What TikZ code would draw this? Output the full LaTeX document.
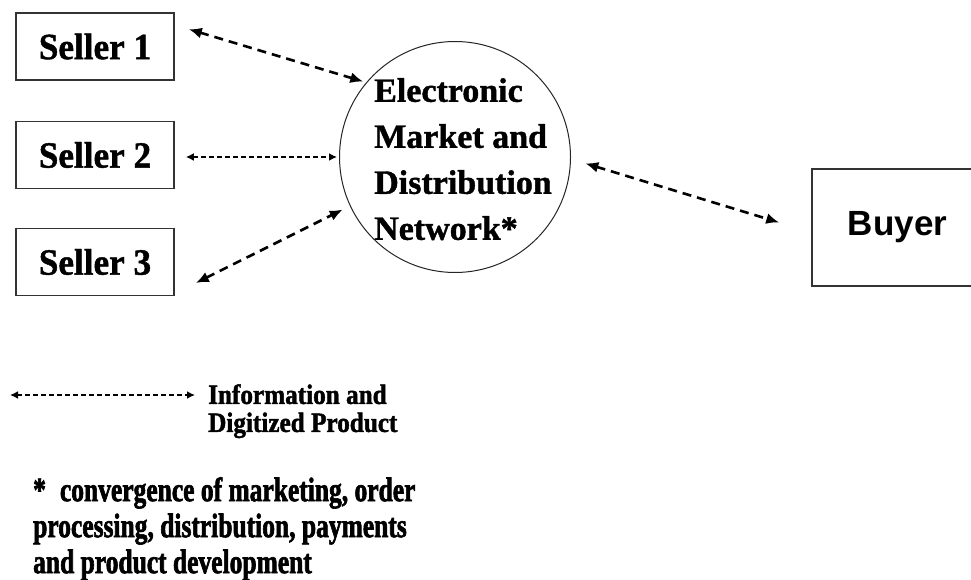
\documentclass[tikz,border=0pt]{standalone}
\usepackage{fontspec}
\setmainfont{Liberation Serif}
\setsansfont{Liberation Sans}
\newfontfamily\heavyfont{Liberation Serif}[FakeBold=1.2]
\newfontfamily\sellerfont{Liberation Serif}[FakeStretch=0.95,FakeBold=1.2]
\newfontfamily\legendfont{Liberation Serif}[FakeStretch=0.9,FakeBold=1.5]
\newfontfamily\notefont{Liberation Serif}[FakeStretch=0.75,FakeBold=1.8]
\usetikzlibrary{arrows.meta}

\begin{document}
\begin{tikzpicture}[x=1pt,y=-1pt,
  box/.style={draw=black!80, line width=1.6pt, inner sep=0pt,
    minimum width=158pt, minimum height=67pt},
  sellertext/.style={font=\sellerfont\bfseries\fontsize{37}{40}\selectfont},
  dasharrow/.style={line width=2.6pt, dash pattern=on 9pt off 6pt,
    {Latex[length=13pt,width=11pt]}-{Latex[length=13pt,width=11pt]}},
  dotarrow/.style={line width=2.2pt, dash pattern=on 5pt off 3pt,
    {Latex[length=8pt,width=8pt]}-{Latex[length=8pt,width=8pt]}},
]
\fill[white] (0,0) rectangle (971,580);
\useasboundingbox (0,0) rectangle (971,580);

% sellers
\node[box, sellertext] (s1) at (95,46.5) {Seller 1};
\node[box, sellertext] (s2) at (95,155) {Seller 2};
\node[box, sellertext] (s3) at (95,262) {Seller 3};

% electronic market
\node[draw=black!85, line width=1pt, circle, minimum size=231pt, inner sep=0pt] (net) at (455,157) {};
\node[anchor=north west, align=left, inner sep=0pt,
  font=\heavyfont\bfseries\fontsize{34}{46}\selectfont] (nettext) at (374,78)
  {Electronic\\Market and\\Distribution\\Network*};

% buyer
\node[draw=black!80, line width=1.6pt, inner sep=0pt, minimum width=171pt, minimum height=117pt,
  font=\sffamily\bfseries\fontsize{35}{40}\selectfont] (buyer) at (897.5,227.5) {Buyer};

% connectors
\draw[dasharrow, shorten >=3pt] ([xshift=14pt,yshift=-17pt]s1.north east) -- (net.140);
\draw[dotarrow, shorten <=11pt, shorten >=2pt] (s2.east |- net.west) -- (net.west);
\draw[dasharrow, shorten >=8pt] ([xshift=21pt,yshift=-21pt]s3.east) -- (net.205);
\draw[dasharrow, shorten <=15pt] (net.-1) -- ([xshift=-32pt,yshift=5pt]buyer.west);

% legend
\coordinate (legA) at (10,395);
\coordinate (legB) at (195,395);
\draw[dotarrow] (legA) -- (legB);
\node[anchor=north west, align=left, inner sep=0pt,
  font=\legendfont\bfseries\fontsize{28}{28}\selectfont] (legtext) at (208,384)
  {Information and\\Digitized Product};

% footnote
\node[anchor=north west, align=left, inner sep=0pt,
  font=\notefont\bfseries\fontsize{34}{36}\selectfont] (note) at (33,477)
  {*\hspace{14pt}convergence of marketing, order\\processing, distribution, payments\\and product development};
\end{tikzpicture}
\end{document}
